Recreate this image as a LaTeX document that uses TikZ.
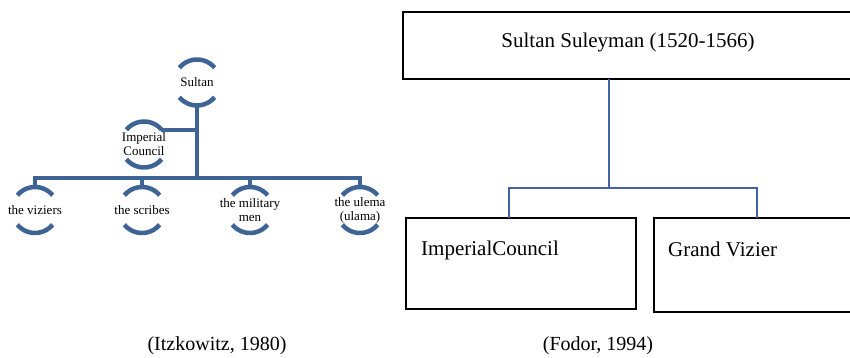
\documentclass[tikz,border=0pt]{standalone}
\usepackage{fontspec}
\setmainfont{Liberation Serif}
\usepackage{tikz}
\usetikzlibrary{positioning}
\usepackage{xcolor}
\definecolor{orgblue}{RGB}{62,100,150}
\definecolor{tieblue}{RGB}{66,98,170}

\begin{document}
\begin{tikzpicture}[x=1pt,y=1pt,
    rank/.style={circle, minimum size=46pt, inner sep=0pt, outer sep=0pt, align=center, font=\fontsize{13}{14}\selectfont},
    trunk/.style={orgblue, line width=4pt},
    ring/.style={orgblue, line width=4.5pt},
    office/.style={draw, line width=2.2pt, rectangle, inner sep=0pt, outer sep=0pt},
    tieline/.style={tieblue, line width=2pt},
    bigtext/.style={font=\fontsize{21}{24}\selectfont, inner sep=0pt}]
\useasboundingbox (0,0) rectangle (850,358);
    % left chart
    \node[rank] (sultan) at (197,275.5) {Sultan};
    \node[rank] (council) at (144,213.5) {Imperial\\Council};
    \node[rank] (viziers) at (35,148) {the viziers};
    \node[rank] (scribes) at (142,148) {the scribes};
    \node[rank] (military) at (250,148) {the military\\men};
    \node[rank] (ulema) at (360,148) {the ulema\\(ulama)};
    \coordinate (bus) at (197,180);
    \coordinate (branch) at (197,228);
    \foreach \n in {sultan,council,viziers,scribes,military,ulema}{
        \draw[ring] ([shift={(40:23pt)}]\n.center) arc (40:140:23pt);
        \draw[ring] ([shift={(220:23pt)}]\n.center) arc (220:320:23pt);
    }
    \draw[trunk] ([yshift=-23pt]sultan.center) -- (bus);
    \draw[trunk] (branch) -- ([xshift=17pt]council.center |- branch);
    \draw[trunk] ([yshift=23pt]viziers.center) |- (bus) -| ([yshift=23pt]ulema.center);
    \draw[trunk] ([yshift=23pt]scribes.center) -- (scribes.center |- bus);
    \draw[trunk] ([yshift=23pt]military.center) -- (military.center |- bus);
    % right chart
    \node[office, minimum width=452pt, minimum height=67pt] (topbox) at (629,312.5) {};
    \node[bigtext] (toptext) at (628,316) {Sultan Suleyman (1520-1566)};
    \node[office, minimum width=230pt, minimum height=91pt] (councilbox) at (521,94.5) {};
    \node[office, minimum width=201pt, minimum height=94pt] (vizierbox) at (754.5,93) {};
    \node[bigtext, anchor=west] (counciltext) at ([xshift=15pt,yshift=-32pt]councilbox.north west) {ImperialCouncil};
    \node[bigtext, anchor=west] (viziertext) at ([xshift=14pt,yshift=-31pt]vizierbox.north west) {Grand Vizier};
    \coordinate (fork) at (609,170);
    \draw[tieline] (fork |- topbox.south) -- (fork);
    \draw[tieline] ([xshift=-12pt]councilbox.north) |- (fork) -| ([xshift=2.5pt]vizierbox.north);
    % sources
    \node[font=\fontsize{20}{22}\selectfont] (srcleft) at (217,12) {(Itzkowitz, 1980)};
    \node[font=\fontsize{20}{22}\selectfont] (srcright) at (598,12) {(Fodor, 1994)};
\end{tikzpicture}
\end{document}
